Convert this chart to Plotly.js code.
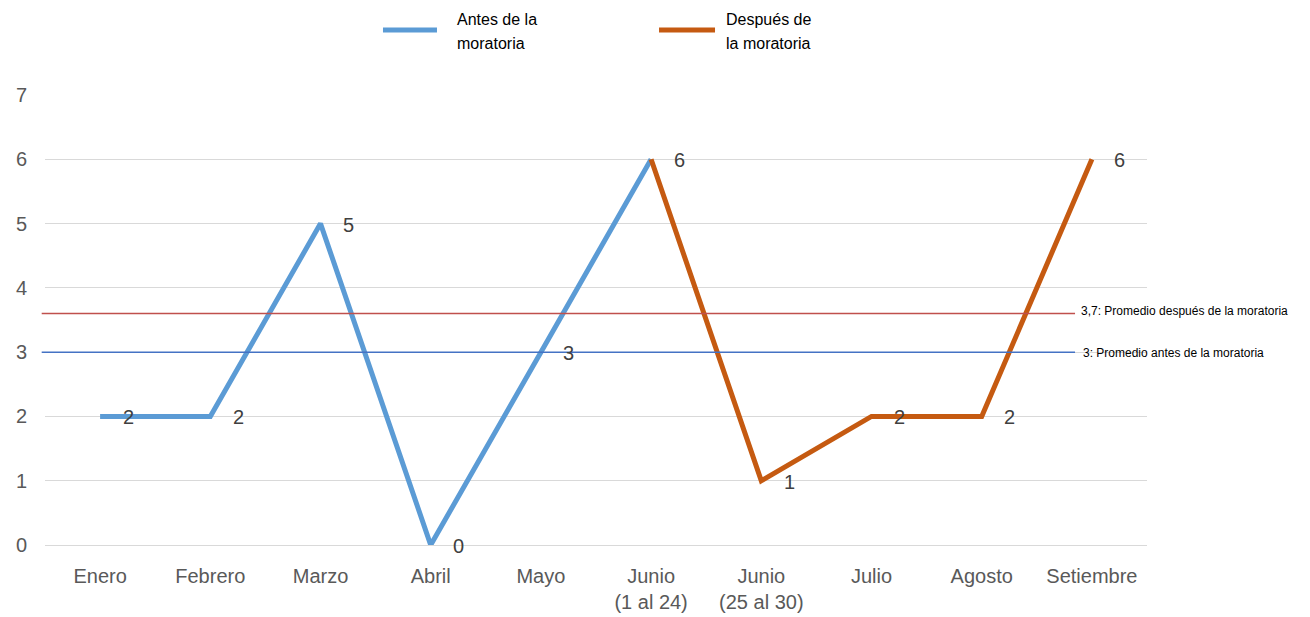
<!DOCTYPE html>
<html>
<head>
<meta charset="utf-8">
<script src="https://cdn.plot.ly/plotly-3.0.1.min.js"></script>
<style>html,body{margin:0;padding:0;background:#fff;}#chart{width:1310px;height:617px;}</style>
</head>
<body>
<div id="chart"></div>
<script>
const categories = ["Enero", "Febrero", "Marzo", "Abril", "Mayo", "Junio<br>(1 al 24)", "Junio<br>(25 al 30)", "Julio", "Agosto", "Setiembre"];
const antesCats = categories.slice(0, 6);
const antesValues = [2, 2, 5, 0, 3, 6];
const despuesCats = categories.slice(5);
const despuesValues = [6, 1, 2, 2, 6];
const seriesNames = ["Antes de la<br>moratoria", "Después de<br>la moratoria"];
const promedioAntes = 3.0;
const promedioDespues = 3.6;
const promedioAntesLabel = "3: Promedio antes de la moratoria";
const promedioDespuesLabel = "3,7: Promedio después de la moratoria";
const yTicks = [0, 1, 2, 3, 4, 5, 6, 7];

const FONT = "Liberation Sans, Arial, sans-serif";
const colors = ["#5B9BD5", "#C55A11"];

const traces = [
  {x: antesCats, y: antesValues, type: "scatter", mode: "lines", name: seriesNames[0],
   line: {color: colors[0], width: 5}, showlegend: false},
  {x: despuesCats, y: despuesValues, type: "scatter", mode: "lines", name: seriesNames[1],
   line: {color: colors[1], width: 5}, showlegend: false}
];

const annotations = [];
function addLabels(cats, vals, skipFirst) {
  cats.forEach((c, i) => {
    if (skipFirst && i === 0) return;
    annotations.push({x: c, y: vals[i], xref: "x", yref: "y", text: String(vals[i]), showarrow: false,
      xshift: 28, yshift: -1, font: {family: FONT, size: 20, color: "#404040"}});
  });
}
addLabels(antesCats, antesValues, false);
addLabels(despuesCats, despuesValues, true);

const avgX0 = -0.003, avgX1 = 0.9347;
annotations.push({x: avgX1, y: promedioDespues, xref: "paper", yref: "y", text: promedioDespuesLabel, showarrow: false,
  xanchor: "left", xshift: 4, yshift: 3, font: {family: FONT, size: 12, color: "#000"}});
annotations.push({x: avgX1, y: promedioAntes, xref: "paper", yref: "y", text: promedioAntesLabel, showarrow: false,
  xanchor: "left", xshift: 6, yshift: -1, font: {family: FONT, size: 12, color: "#000"}});

const shapes = [
  {type: "line", xref: "paper", yref: "y", x0: avgX0, x1: avgX1, y0: promedioDespues, y1: promedioDespues,
   line: {color: "#C0504D", width: 1.5}},
  {type: "line", xref: "paper", yref: "y", x0: avgX0, x1: avgX1, y0: promedioAntes, y1: promedioAntes,
   line: {color: "#4472C4", width: 1.5}}
];

// manual legend (paper coordinates)
const legendItems = [
  {x0: 0.3067, x1: 0.3557, tx: 0.3720},
  {x0: 0.5572, x1: 0.6080, tx: 0.6161}
];
legendItems.forEach((it, k) => {
  shapes.push({type: "line", xref: "paper", yref: "paper", x0: it.x0, x1: it.x1, y0: 1.1444, y1: 1.1444,
    line: {color: colors[k], width: 5}});
  const parts = seriesNames[k].split("<br>");
  parts.forEach((p, j) => {
    annotations.push({x: it.tx, y: j === 0 ? 1.1670 : 1.1140, xref: "paper", yref: "paper", text: p,
      showarrow: false, xanchor: "left", yanchor: "middle",
      font: {family: FONT, size: 16, color: "#000"}});
  });
});

const layout = {
  width: 1310, height: 617,
  margin: {l: 45, r: 163, t: 95, b: 72, autoexpand: false},
  paper_bgcolor: "#fff", plot_bgcolor: "#fff",
  font: {family: FONT, color: "#595959"},
  showlegend: false,
  xaxis: {type: "category", categoryorder: "array", categoryarray: categories, range: [-0.5, 9.5],
    showgrid: false, zeroline: false, showline: false, ticks: "", ticklabelstandoff: 17,
    tickfont: {family: FONT, size: 20, color: "#595959"}, fixedrange: true},
  yaxis: {range: [0, 7], tickvals: yTicks, ticktext: yTicks.map(String), showgrid: true,
    gridcolor: "#D9D9D9", gridwidth: 1, zeroline: true, zerolinecolor: "#D9D9D9", zerolinewidth: 1,
    showline: false, ticks: "", ticklabelstandoff: 17,
    tickfont: {family: FONT, size: 20, color: "#595959"}, fixedrange: true},
  shapes: shapes,
  annotations: annotations
};

Plotly.newPlot("chart", traces, layout, {displayModeBar: false, staticPlot: true});
</script>
</body>
</html>
